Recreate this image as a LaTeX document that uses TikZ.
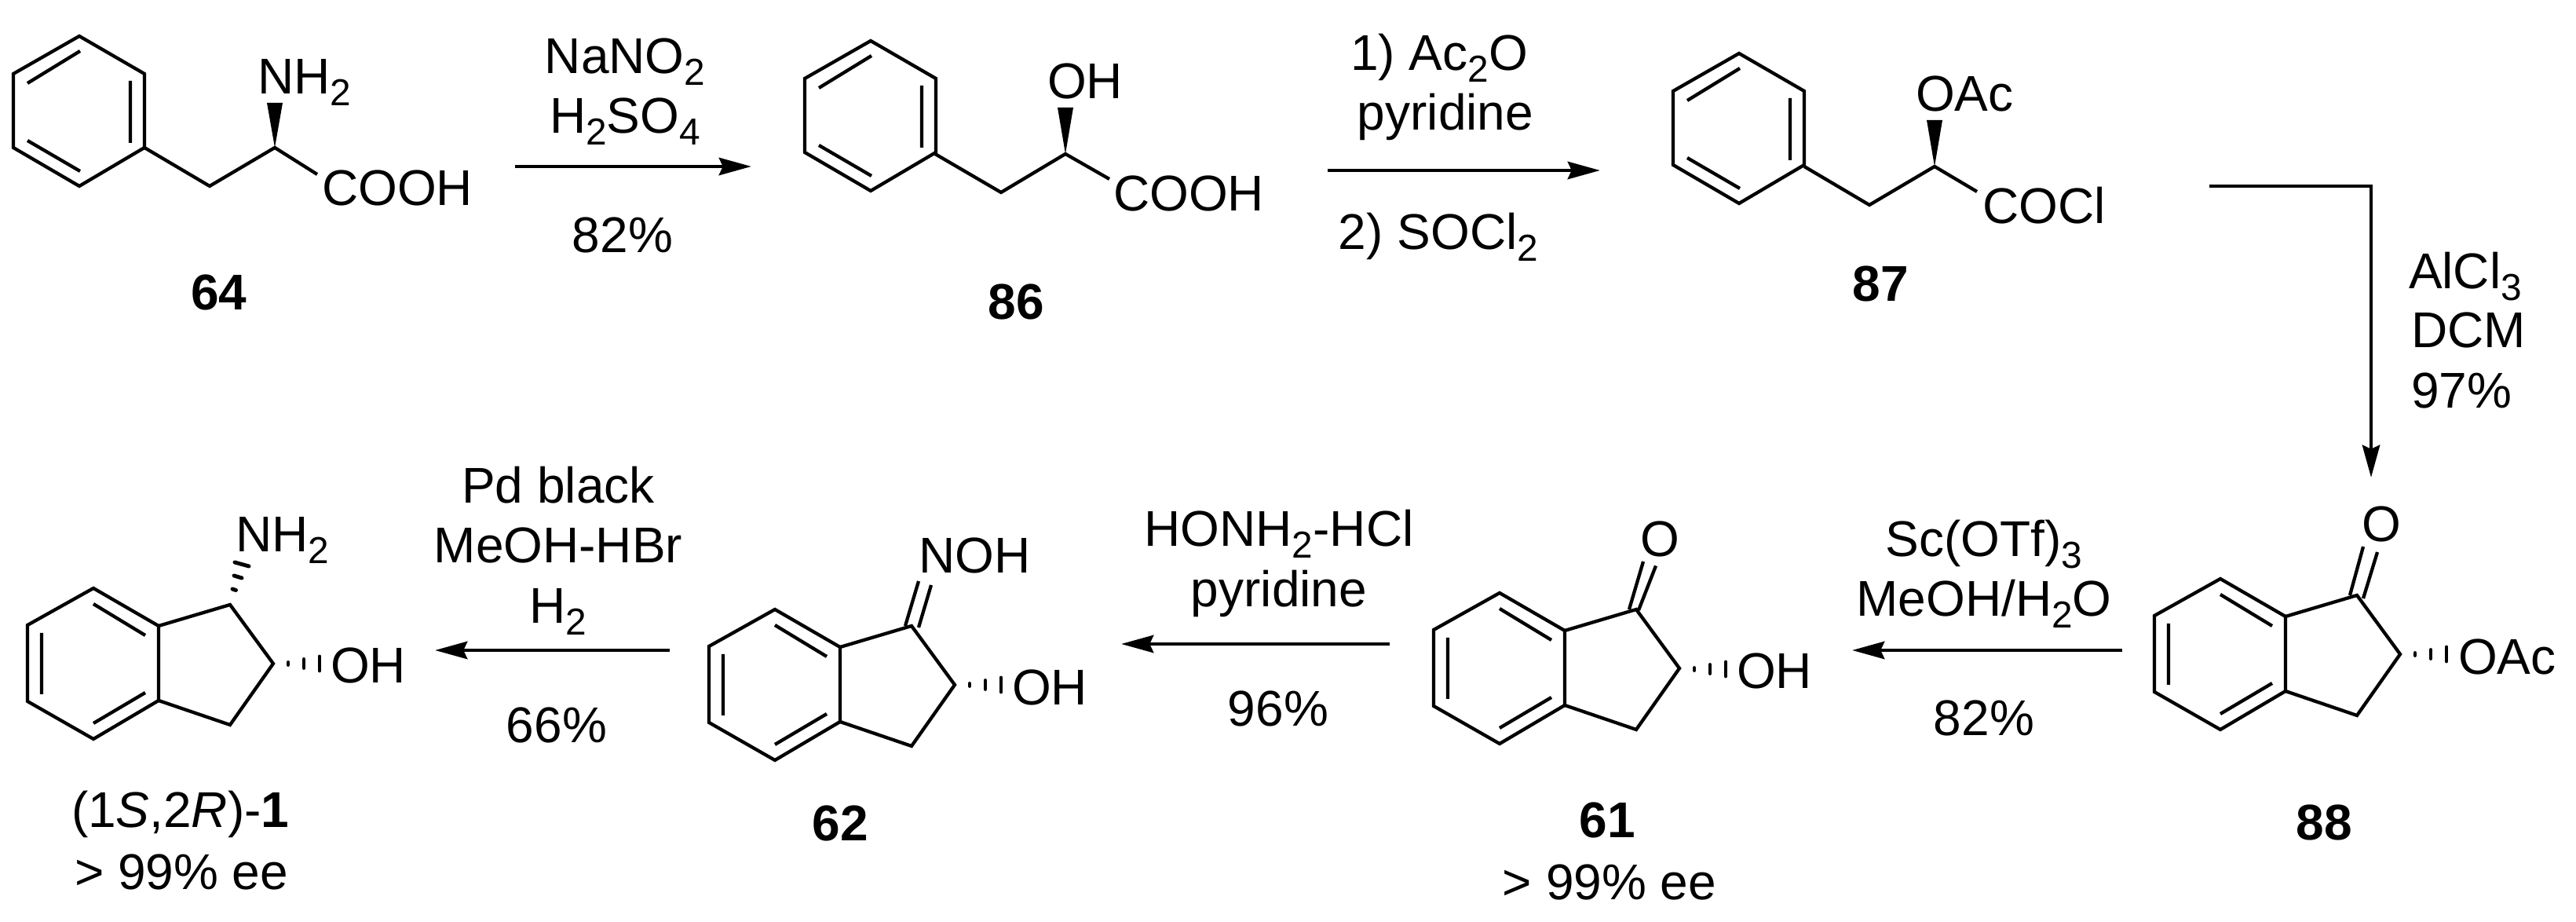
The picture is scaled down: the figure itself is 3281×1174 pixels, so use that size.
\documentclass[tikz,border=0pt]{standalone}
\usepackage{fontspec}
\setmainfont{Liberation Sans}
\usepackage{tikz}
\usetikzlibrary{arrows.meta}
\newcommand{\sbs}[1]{\raisebox{-4pt}{\fontsize{13.6}{16}\selectfont #1}}
\newcommand{\phenylring}[1]{\begin{scope}[shift={(#1)}]
		\draw[bond] (0,0) -- (83,48) -- (83,142) -- (0,191) -- (-84,142) -- (-84,48) -- cycle;
		\draw[bond] (1,19) -- (-66,60) (65,57) -- (65,136) (-66,133) -- (1,172);
	\end{scope}}
\newcommand{\indanering}[1]{\begin{scope}[shift={(#1)}]
		\draw[bond] (0,0) -- (83,48) -- (83,143) -- (0,192) -- (-84,144) -- (-84,47) -- cycle;
		\draw[bond] (83,48) -- (174,21) -- (229,96) -- (174,174) -- (83,143);
		\draw[bond] (0,20) -- (66,60) (0,172) -- (66,133) (-66,57) -- (-66,135);
	\end{scope}}
\newcommand{\hashright}[1]{\draw[hashmark,shift={(#1)}] (19,-1.5) -- (19,1.5) (39,-5.5) -- (39,5.5) (59,-9) -- (59,9);}
\tikzset{bond/.style={line width=1.22pt},
	hashmark/.style={line width=1.4pt,line cap=round},
	rxnarrow/.style={line width=1.4pt,-{Stealth[length=11.7pt,width=6.3pt,inset=1.4pt]}},
	atomlabel/.style={inner sep=0,outer sep=0,anchor=base west,font=\fontsize{18.2}{22}\selectfont},
	reagent/.style={inner sep=0,outer sep=0,anchor=base,font=\fontsize{18.2}{22}\selectfont},
	cmpdlabel/.style={reagent,font=\fontsize{18.2}{22}\selectfont\bfseries}}
\begin{document}
\begin{tikzpicture}[x=0.01cm,y=-0.01cm]
	\useasboundingbox (0,0) rectangle (3281,1174);
	% top row
	\phenylring{101,46}
	\draw[bond] (184,188) -- (267,237) -- (350,188) -- (404,222);
	\fill (350,188) -- (340,131) -- (360,131) -- cycle;
	\node[atomlabel] (nh64) at (328,120) {NH\sbs{2}};
	\node[atomlabel] (cooh64) at (410,262) {COOH};
	\node[cmpdlabel] (c64) at (279,395) {64};
	%
	\phenylring{1109,52}
	\draw[bond] (1191,196) -- (1275,245) -- (1357,196) -- (1413,228);
	\fill (1357,196) -- (1347,137) -- (1367,137) -- cycle;
	\node[atomlabel] (oh86) at (1334,126) {OH};
	\node[atomlabel] (cooh86) at (1418,269) {COOH};
	\node[cmpdlabel] (c86) at (1294,407) {86};
	%
	\phenylring{2215,68}
	\draw[bond] (2298,212) -- (2381,261) -- (2464,212) -- (2518,244);
	\fill (2464,212) -- (2454,153) -- (2474,153) -- cycle;
	\node[atomlabel] (oac87) at (2440,142) {OAc};
	\node[atomlabel] (cocl87) at (2525,285) {COCl};
	\node[cmpdlabel] (c87) at (2395,384) {87};
	% bottom row
	\indanering{119,749}
	\draw[hashmark] (296,750) -- (300.5,751.5) (298,733) -- (308,736) (299,716) -- (317,721);
	\hashright{348,845}
	\node[atomlabel] (nh1) at (300,703) {NH\sbs{2}};
	\node[atomlabel] (oh1) at (421,870) {OH};
	\node[atomlabel] (c1) at (91,1054) {(1\textit{S},2\textit{R})-\textbf{1}};
	\node[atomlabel] (ee1) at (95,1133) {> 99\% ee};
	%
	\indanering{987,776}
	\draw[bond] (1153,797) -- (1170,740) (1170,799) -- (1186,745);
	\hashright{1216,872}
	\node[atomlabel] (noh62) at (1170,730) {NOH};
	\node[atomlabel] (oh62) at (1289,898) {OH};
	\node[cmpdlabel] (c62) at (1070,1071) {62};
	%
	\indanering{1910,755}
	\draw[bond] (2075,776) -- (2093,715) (2087,777) -- (2109,720.5);
	\hashright{2139,852}
	\node[atomlabel] (o61) at (2089,709) {O};
	\node[atomlabel] (oh61) at (2212,877) {OH};
	\node[cmpdlabel] (c61) at (2047,1067) {61};
	\node[reagent] (ee61) at (2050,1146) {> 99\% ee};
	%
	\indanering{2828,737}
	\draw[bond] (2993,758) -- (3010,696) (3010,762) -- (3028,703);
	\hashright{3057,833}
	\node[atomlabel] (o88) at (3008,690) {O};
	\node[atomlabel] (oac88) at (3131,859) {OAc};
	\node[cmpdlabel] (c88) at (2960,1070) {88};
	% arrows
	\coordinate (a1s) at (656,212);
	\coordinate (a1e) at (957,212);
	\coordinate (a2s) at (1691,217);
	\coordinate (a2e) at (2038,217);
	\coordinate (a3s) at (2814,237);
	\coordinate (a3e) at (3020,608);
	\coordinate (a4s) at (2703,828);
	\coordinate (a4e) at (2359,828);
	\coordinate (a5s) at (1770,820);
	\coordinate (a5e) at (1428,820);
	\coordinate (a6s) at (853,828);
	\coordinate (a6e) at (554,828);
	\draw[rxnarrow] (a1s) -- (a1e);
	\draw[rxnarrow] (a2s) -- (a2e);
	\draw[rxnarrow] (a3s) -| (a3e);
	\draw[rxnarrow] (a4s) -- (a4e);
	\draw[rxnarrow] (a5s) -- (a5e);
	\draw[rxnarrow] (a6s) -- (a6e);
	% reagents
	\node[reagent] (r1a) at (796,94) {NaNO\sbs{2}};
	\node[reagent] (r1b) at (796,170) {H\sbs{2}SO\sbs{4}};
	\node[reagent] (r1c) at (793,322) {82\%};
	\node[reagent] (r2a) at (1833,90) {1) Ac\sbs{2}O};
	\node[reagent] (r2b) at (1841,166) {pyridine};
	\node[reagent] (r2c) at (1832,318) {2) SOCl\sbs{2}};
	\node[atomlabel] (r3a) at (3068,368) {AlCl\sbs{3}};
	\node[atomlabel] (r3b) at (3071,443) {DCM};
	\node[atomlabel] (r3c) at (3071,520) {97\%};
	\node[reagent] (r4a) at (2527,709) {Sc(OTf)\sbs{3}};
	\node[reagent] (r4b) at (2527,785) {MeOH/H\sbs{2}O};
	\node[reagent] (r4c) at (2527,937) {82\%};
	\node[reagent] (r5a) at (1629,696) {HONH\sbs{2}-HCl};
	\node[reagent] (r5b) at (1629,773) {pyridine};
	\node[reagent] (r5c) at (1628,925) {96\%};
	\node[reagent] (r6a) at (711,641) {Pd black};
	\node[reagent] (r6b) at (711,717) {MeOH-HBr};
	\node[reagent] (r6c) at (711,794) {H\sbs{2}};
	\node[reagent] (r6d) at (709,946) {66\%};
\end{tikzpicture}
\end{document}
